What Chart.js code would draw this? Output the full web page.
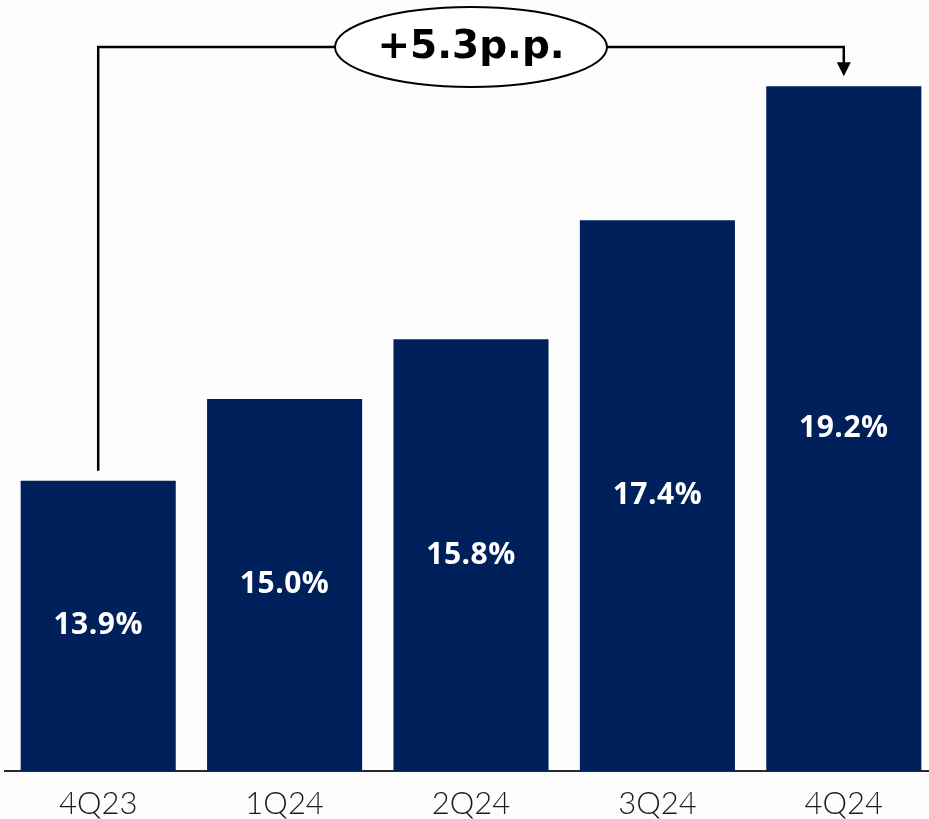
<!DOCTYPE html>
<html>
<head>
<meta charset="utf-8">
<script src="https://cdn.jsdelivr.net/npm/chart.js@4.4.1/dist/chart.umd.min.js"></script>
<style>
	html, body { margin: 0; padding: 0; background: #fdfdfd; overflow: hidden; }
	.chart-wrap { position: absolute; left: 0; top: 0; width: 937px; height: 819px; }
</style>
</head>
<body>
<div class="chart-wrap"><canvas id="ratio-chart"></canvas></div>
<script>
	// Quarterly ratio, in percent
	var quarters = ['4Q23', '1Q24', '2Q24', '3Q24', '4Q24'];
	var ratios = [13.9, 15.0, 15.8, 17.4, 19.2];

	var navy = '#00205b';

	// White value inside each bar, halfway up
	var barLabels = {
		id: 'barLabels',
		afterDatasetsDraw: function(chart) {
			var ctx = chart.ctx;
			var meta = chart.getDatasetMeta(0);
			var yScale = chart.scales.y;
			var bottom = chart.chartArea.bottom;
			ctx.save();
			ctx.fillStyle = '#ffffff';
			ctx.font = '700 30px "Open Sans", sans-serif';
			ctx.letterSpacing = '0.5px';
			ctx.textAlign = 'center';
			ctx.textBaseline = 'middle';
			for (var i = 0; i < ratios.length; i++) {
				var x = meta.data[i].x;
				var top = yScale.getPixelForValue(ratios[i]);
				ctx.fillText(ratios[i].toFixed(1) + '%', x, (top + bottom) / 2);
			}
			ctx.restore();
		}
	};

	// Bracket from the first to the last bar with the change in the bubble
	var changeBracket = {
		id: 'changeBracket',
		afterDraw: function(chart) {
			var ctx = chart.ctx;
			var meta = chart.getDatasetMeta(0);
			var yScale = chart.scales.y;
			var x0 = meta.data[0].x;
			var x1 = meta.data[meta.data.length - 1].x;
			var y0 = yScale.getPixelForValue(ratios[0]);
			var y1 = yScale.getPixelForValue(ratios[ratios.length - 1]);
			var lineY = 47;
			var cx = (x0 + x1) / 2;
			var rx = 136, ry = 40;

			ctx.save();
			ctx.strokeStyle = '#000000';
			ctx.lineWidth = 2.5;

			ctx.beginPath();
			ctx.moveTo(x0, y0 - 10);
			ctx.lineTo(x0, lineY);
			ctx.lineTo(cx - rx, lineY);
			ctx.moveTo(cx + rx, lineY);
			ctx.lineTo(x1, lineY);
			ctx.lineTo(x1, y1 - 22);
			ctx.stroke();

			// arrow head
			ctx.fillStyle = '#000000';
			ctx.beginPath();
			ctx.moveTo(x1 - 7, y1 - 24);
			ctx.lineTo(x1 + 7, y1 - 24);
			ctx.lineTo(x1, y1 - 10);
			ctx.closePath();
			ctx.fill();

			// bubble
			ctx.fillStyle = '#ffffff';
			ctx.lineWidth = 2;
			ctx.beginPath();
			ctx.ellipse(cx, lineY, rx, ry, 0, 0, Math.PI * 2);
			ctx.fill();
			ctx.stroke();

			var diff = ratios[ratios.length - 1] - ratios[0];
			ctx.fillStyle = '#000000';
			ctx.font = 'bold 39px "DejaVu Sans", sans-serif';
			ctx.textAlign = 'center';
			ctx.textBaseline = 'middle';
			ctx.fillText('+' + diff.toFixed(1) + 'p.p.', cx, lineY + 1);
			ctx.restore();
		}
	};

	var canvas = document.getElementById('ratio-chart');
	var chart = new Chart(canvas.getContext('2d'), {
		type: 'bar',
		data: {
			labels: quarters,
			datasets: [{
				data: ratios,
				backgroundColor: navy,
				borderWidth: 0,
				categoryPercentage: 1,
				barPercentage: 0.832
			}]
		},
		options: {
			responsive: true,
			maintainAspectRatio: false,
			animation: false,
			layout: { padding: { left: 5, right: 0, top: 0, bottom: 0 } },
			plugins: {
				legend: { display: false },
				tooltip: { enabled: false }
			},
			scales: {
				x: {
					grid: { display: false, drawTicks: false },
					border: { display: true, color: '#2a2a2a', width: 2 },
					ticks: {
						color: '#1a1a1a',
						padding: 14,
						font: { family: 'Lato, "Open Sans", sans-serif', size: 31, weight: '300' }
					},
					afterFit: function(scale) { scale.height = 48; }
				},
				y: {
					display: false,
					min: 10,
					max: 20.36
				}
			}
		},
		plugins: [barLabels, changeBracket]
	});
</script>
</body>
</html>
